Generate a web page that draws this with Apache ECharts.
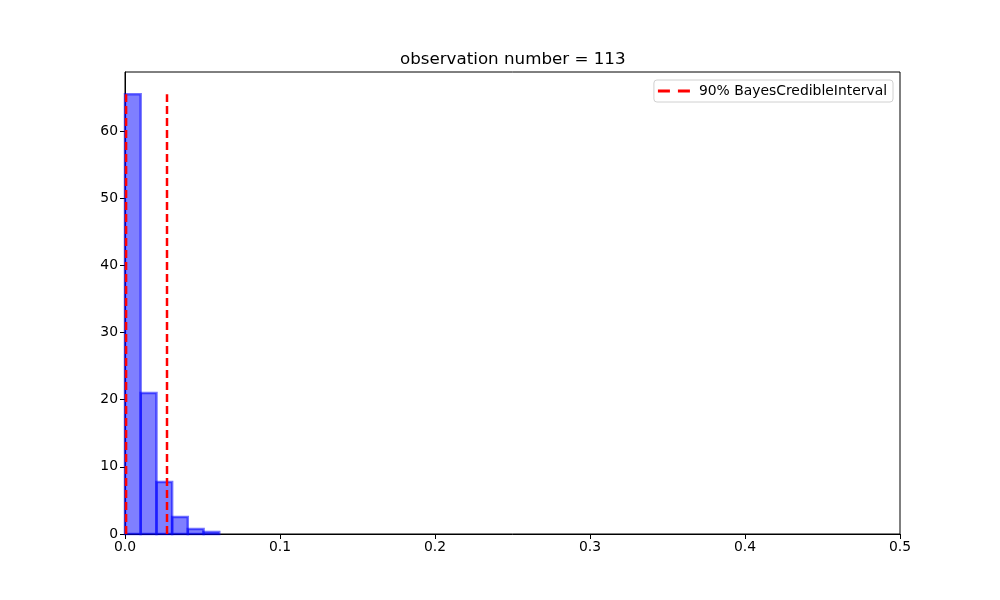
<!DOCTYPE html>
<html>
<head>
<meta charset="utf-8">
<script src="https://cdn.jsdelivr.net/npm/echarts@6/dist/echarts.min.js"></script>
<style>html,body{margin:0;padding:0;background:#fff}#c{width:1000px;height:600px}</style>
</head>
<body>
<div id="c"></div>
<script>
var binEdges = [0, 0.0101, 0.0203, 0.0304, 0.0405, 0.0507, 0.0608];
var density = [65.5, 21.0, 7.75, 2.55, 0.75, 0.3];
var ciLower = 0.0007;
var ciUpper = 0.0271;
var ciTop = 65.5;
var xTicks = [0, 0.1, 0.2, 0.3, 0.4, 0.5];
var yTicks = [0, 10, 20, 30, 40, 50, 60];
var titleText = 'observation number = 113';
var legendName = '90% BayesCredibleInterval';

var barData = density.map(function (d, i) { return [binEdges[i], binEdges[i + 1], d]; });
var font = 'DejaVu Sans';
var chart = echarts.init(document.getElementById('c'));
chart.setOption({
  animation: false,
  backgroundColor: '#fff',
  title: { text: titleText, left: 395, top: 46,
    textStyle: { fontFamily: font, fontSize: 16.7, fontWeight: 'normal', color: '#000' } },
  grid: { left: 125, right: 100, top: 72, bottom: 66, show: true, borderColor: '#000', borderWidth: 1, backgroundColor: 'transparent' },
  legend: {
    right: 107, top: 80, orient: 'vertical',
    backgroundColor: '#fff', borderColor: '#d0d0d0', borderWidth: 1, borderRadius: 3,
    padding: [4, 6, 4, 4],
    itemWidth: 32, itemHeight: 3, itemGap: 10,
    textStyle: { fontFamily: font, fontSize: 13.9, color: '#000', padding: [0, 0, 0, 4] },
    data: [{ name: legendName, icon: 'path://M0,0h12v3h-12z M20,0h12v3h-12z', itemStyle: { color: 'red' } }]
  },
  xAxis: {
    type: 'value', min: 0, max: 0.5, interval: 0.1,
    axisLine: { show: true, onZero: false, lineStyle: { color: '#000' } },
    axisTick: { show: true, inside: false, length: 5, lineStyle: { color: '#000' }, customValues: xTicks },
    axisLabel: { fontFamily: font, fontSize: 13.9, color: '#000', margin: 6, customValues: xTicks,
      formatter: function (v) { return v.toFixed(1); } },
    splitLine: { show: false }
  },
  yAxis: {
    type: 'value', min: 0, max: 68.8,
    axisLine: { show: true, lineStyle: { color: '#000' } },
    axisTick: { show: true, inside: false, length: 5, lineStyle: { color: '#000' }, customValues: yTicks },
    axisLabel: { fontFamily: font, fontSize: 13.9, color: '#000', margin: 7, customValues: yTicks },
    splitLine: { show: false }
  },
  series: [
    {
      type: 'custom', name: 'hist', data: barData, z: 2,
      renderItem: function (params, api) {
        var p0 = api.coord([api.value(0), 0]);
        var p1 = api.coord([api.value(1), api.value(2)]);
        return { type: 'rect', shape: { x: p0[0], y: p1[1], width: p1[0] - p0[0], height: p0[1] - p1[1] },
          style: { fill: 'rgba(0,0,255,0.5)', stroke: 'rgba(0,0,255,0.55)', lineWidth: 2.5 } };
      }
    },
    {
      type: 'line', name: legendName, data: [[ciLower, 0], [ciLower, ciTop]], symbol: 'none', z: 3,
      lineStyle: { color: 'red', width: 2.5, type: [8, 4] }, itemStyle: { color: 'red' }
    },
    {
      type: 'line', name: legendName, data: [[ciUpper, 0], [ciUpper, ciTop]], symbol: 'none', z: 3,
      lineStyle: { color: 'red', width: 2.5, type: [8, 4] }, itemStyle: { color: 'red' }
    }
  ]
});
</script>
</body>
</html>
